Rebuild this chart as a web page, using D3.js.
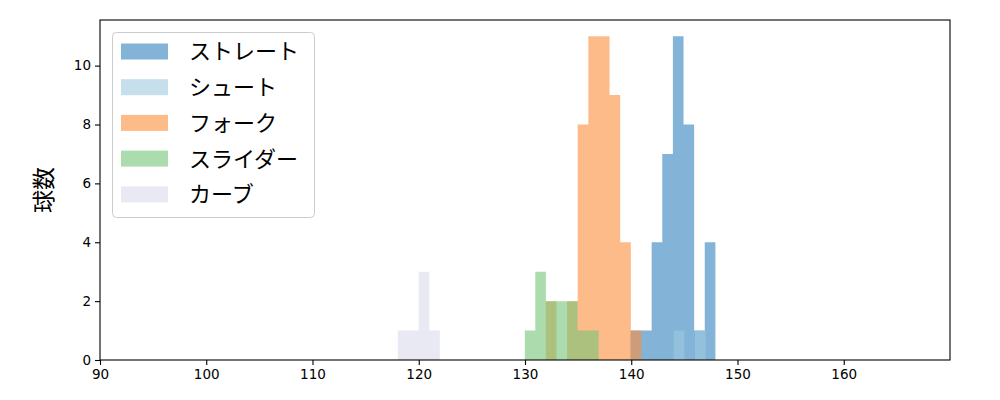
<!DOCTYPE html>
<html><head><meta charset="utf-8">
<script src="https://cdn.jsdelivr.net/npm/d3@7"></script>
<style>body{margin:0;background:#fff;} svg{display:block;}</style>
</head><body>
<svg id="c" width="1000" height="400"></svg>
<script>
const seriesNames = ["ストレート","シュート","フォーク","スライダー","カーブ"];
const seriesColors = ["#3182bd","#9ecae1","#fd8d3c","#74c476","#dadaeb"];
const straightEdges = [139.92,140.92,141.92,142.92,143.92,144.92,145.92,146.92,147.92];
const straightCounts = [1,1,4,7,11,8,1,4];
const shootEdges = [144.0,145.0,146.0,147.0];
const shootCounts = [1,0,1];
const forkEdges = [131.96,132.96,133.96,134.96,135.96,136.96,137.96,138.96,139.96,140.96];
const forkCounts = [2,0,2,8,11,11,9,4,1];
const sliderEdges = [129.98,130.97,131.97,132.96,133.96,134.95,135.95,136.94];
const sliderCounts = [1,3,2,2,2,1,1];
const curveEdges = [118.03,119.02,120.0,120.99,121.98];
const curveCounts = [1,1,3,1];
const xTicks = [90,100,110,120,130,140,150,160];
const yTicks = [0,2,4,6,8,10];
const yLabel = "球数";

const edgesList = [straightEdges, shootEdges, forkEdges, sliderEdges, curveEdges];
const countsList = [straightCounts, shootCounts, forkCounts, sliderCounts, curveCounts];

const L=100, R=950, T=20, B=360;
const svg = d3.select("#c");
const x = d3.scaleLinear().domain([90,170]).range([L,R]);
const y = d3.scaleLinear().domain([0,11.55]).range([B,T]);

seriesNames.forEach((name,si)=>{
  const e = edgesList[si], c = countsList[si];
  const bins = c.map((v,i)=>({x0:e[i], x1:e[i+1], v}));
  // draw each series as a single path so adjacent bars have no seams
  const p = d3.path();
  bins.filter(b=>b.v>0).forEach(b=>{
    p.rect(x(b.x0), y(b.v), x(b.x1)-x(b.x0), y(0)-y(b.v));
  });
  svg.append("path").attr("d", p.toString())
    .attr("fill", seriesColors[si]).attr("fill-opacity", 0.6);
});

const font = "DejaVu Sans, sans-serif";
const xa = svg.append("g").attr("transform",`translate(0,${B})`)
  .call(d3.axisBottom(x).tickValues(xTicks).tickSize(5).tickPadding(4).tickFormat(d3.format("d")));
const ya = svg.append("g").attr("transform",`translate(${L},0)`)
  .call(d3.axisLeft(y).tickValues(yTicks).tickSize(5).tickPadding(4).tickFormat(d3.format("d")));
[xa,ya].forEach(a=>{
  a.select(".domain").remove();
  a.selectAll("line").attr("stroke","#000").attr("stroke-width",1.1);
  a.selectAll("text").attr("font-family",font).attr("font-size","13.5px").attr("fill","#000");
});
svg.append("rect").attr("x",L).attr("y",T).attr("width",R-L).attr("height",B-T)
  .attr("fill","none").attr("stroke","#000").attr("stroke-width",1.1);

svg.append("text").attr("transform",`translate(44,${(T+B)/2}) rotate(-90)`)
  .attr("text-anchor","middle").attr("dy","0.36em").attr("font-family","Noto Sans CJK JP").attr("font-size","23px")
  .text(yLabel);

const lg = svg.append("g");
lg.append("rect").attr("x",112.5).attr("y",32.5).attr("width",202).attr("height",185).attr("rx",4)
  .attr("fill","#fff").attr("fill-opacity",0.8).attr("stroke","#ccc").attr("stroke-width",1);
seriesNames.forEach((name,i)=>{
  const cy = 51.5 + i*35.7;
  lg.append("rect").attr("x",121).attr("y",cy-8).attr("width",47).attr("height",16)
    .attr("fill",seriesColors[i]).attr("fill-opacity",0.6);
  lg.append("text").attr("x",189).attr("y",cy).attr("dy","0.36em")
    .attr("font-family","Noto Sans CJK JP").attr("font-size","22px").attr("fill","#000").text(name);
});
</script>
</body></html>
